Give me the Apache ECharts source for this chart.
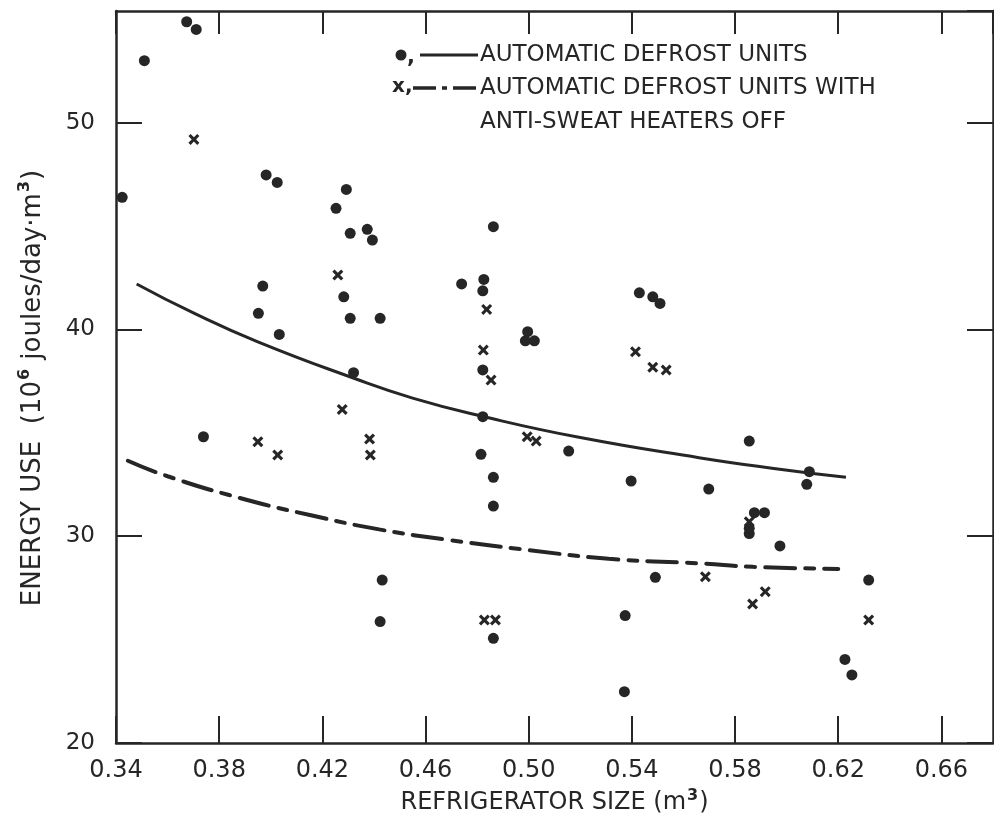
<!DOCTYPE html>
<html>
<head>
<meta charset="utf-8">
<script src="https://cdn.jsdelivr.net/npm/echarts@6/dist/echarts.min.js"></script>
<style>
  html, body { margin: 0; padding: 0; background: #fff; }
  #chart { width: 994px; height: 816px; }
</style>
</head>
<body>
<div id="chart"></div>
<script>
// automatic defrost units (dots)
var dotSize = [0.3424, 0.3510, 0.3674, 0.3711, 0.3739, 0.3952, 0.3969, 0.3982, 0.4025, 0.4033,
    0.4253, 0.4293, 0.4283, 0.4308, 0.4308, 0.4321, 0.4374, 0.4394, 0.4424, 0.4432,
    0.4424, 0.4740, 0.4826, 0.4822, 0.4822, 0.4822, 0.4815, 0.4863, 0.4863, 0.4863,
    0.4863, 0.4996, 0.4987, 0.5022, 0.5155, 0.5429, 0.5481, 0.5509, 0.5397, 0.5491,
    0.5374, 0.5371, 0.5698, 0.5855, 0.6088, 0.6078, 0.5875, 0.5914, 0.5855, 0.5855,
    0.5974, 0.6318, 0.6226, 0.6253];
var dotEnergy = [46.39, 53.00, 54.88, 54.51, 34.81, 40.78, 42.10, 47.47, 47.11, 39.76,
    45.86, 46.77, 41.58, 44.65, 40.54, 37.91, 44.84, 44.32, 40.54, 27.88,
    25.87, 42.20, 42.42, 41.87, 38.04, 35.78, 33.96, 44.97, 32.85, 31.46,
    25.06, 39.89, 39.45, 39.45, 34.12, 41.77, 41.58, 41.26, 32.67, 28.01,
    26.16, 22.48, 32.28, 34.60, 33.12, 32.51, 31.14, 31.14, 30.38, 30.13,
    29.53, 27.88, 24.04, 23.29];

// with anti-sweat heaters off (crosses)
var crossSize = [0.3702, 0.4260, 0.4277, 0.3950, 0.4027, 0.4383, 0.4386, 0.4837, 0.4824, 0.4854,
    0.4994, 0.5029, 0.4828, 0.4871, 0.5414, 0.5481, 0.5533, 0.5855, 0.5685, 0.5917,
    0.5868, 0.6318];
var crossEnergy = [49.19, 42.63, 36.13, 34.57, 33.93, 34.70, 33.93, 40.97, 39.00, 37.55,
    34.81, 34.60, 25.95, 25.95, 38.92, 38.17, 38.04, 30.70, 28.04, 27.32,
    26.72, 25.95];

// fitted curves
var fitSize = [0.348, 0.370, 0.395, 0.432, 0.455, 0.482, 0.520, 0.566, 0.595, 0.623];
var fitEnergy = [42.2, 40.8, 39.4, 37.65, 36.68, 35.8, 34.77, 33.8, 33.28, 32.85];
var fitOffSize = [0.3446, 0.360, 0.388, 0.416, 0.442, 0.469, 0.500, 0.531, 0.566, 0.587, 0.620];
var fitOffEnergy = [33.65, 32.9, 31.85, 31.0, 30.33, 29.82, 29.33, 28.91, 28.69, 28.52, 28.42];

var xTicks = { min: 0.34, max: 0.68, interval: 0.04 };
var yTicks = { min: 20, max: 55.4, interval: 10 };

function pairs(xs, ys) {
    return xs.map(function (x, i) { return [x, ys[i]]; });
}

var ink = '#262626';
var font = 'DejaVu Sans';
var crossPath = 'path://M2,0 L5,3 L8,0 L10,2 L7,5 L10,8 L8,10 L5,7 L2,10 L0,8 L3,5 L0,2 Z';
var supStyle = { color: ink, fill: ink, fontFamily: font, fontSize: 16, fontWeight: 'bold', lineHeight: 16, verticalAlign: 'top', padding: [0, 1, 0, 1] };

function xAxis(pos, labels) {
    return {
        type: 'value', position: pos,
        min: xTicks.min, max: xTicks.max, interval: xTicks.interval,
        axisLine: { show: true, onZero: false, lineStyle: { color: ink, width: 2.5 } },
        axisTick: { show: true, inside: true, length: pos === 'top' ? 23 : 27, lineStyle: { color: ink, width: 2 } },
        splitLine: { show: false },
        axisLabel: {
            show: labels, showMaxLabel: false, margin: 16,
            color: ink, fontFamily: font, fontSize: 24,
            formatter: function (v) { return v.toFixed(2); }
        }
    };
}

function yAxis(pos, labels) {
    return {
        type: 'value', position: pos,
        min: yTicks.min, max: yTicks.max, interval: yTicks.interval,
        axisLine: { show: true, onZero: false, lineStyle: { color: ink, width: 2.5 } },
        axisTick: { show: true, inside: true, length: 26, lineStyle: { color: ink, width: 2 } },
        splitLine: { show: false },
        axisLabel: {
            show: labels, showMaxLabel: false, margin: 21,
            color: ink, fontFamily: font, fontSize: 23
        }
    };
}

var chart = echarts.init(document.getElementById('chart'));

var xBottom = xAxis('bottom', true);
xBottom.name = 'REFRIGERATOR SIZE (m{sup|3})';
xBottom.nameLocation = 'middle';
xBottom.nameGap = 40;
xBottom.nameTextStyle = { color: ink, fontFamily: font, fontSize: 24, lineHeight: 30, rich: { sup: supStyle } };

var option = {
    backgroundColor: '#fff',
    animation: false,
    grid: { left: 116, right: 1, top: 11, bottom: 73, containLabel: false, outerBoundsMode: 'none' },
    xAxis: [xBottom, xAxis('top', false)],
    yAxis: [yAxis('left', true), yAxis('right', false)],
    graphic: [
        {
            type: 'text', x: 33, y: 388, rotation: Math.PI / 2,
            style: {
                text: 'ENERGY USE  (10{sup|6} joules/day·m{sup|3})',
                fill: ink, font: '26px ' + font, lineHeight: 32, align: 'center', verticalAlign: 'middle',
                rich: { sup: supStyle }
            }
        },
        // legend
        { type: 'circle', shape: { cx: 401, cy: 55, r: 5.5 }, style: { fill: ink } },
        { type: 'text', x: 407, y: 58, style: { text: ',', fill: ink, font: 'bold 21px ' + font, verticalAlign: 'middle' } },
        { type: 'line', shape: { x1: 420, y1: 55, x2: 478, y2: 55 }, style: { stroke: ink, lineWidth: 3 } },
        { type: 'text', x: 480, y: 55, style: { text: 'AUTOMATIC DEFROST UNITS', fill: ink, font: '23px ' + font, verticalAlign: 'middle' } },
        { type: 'text', x: 392, y: 87, style: { text: 'x,', fill: ink, font: 'bold 20px ' + font, verticalAlign: 'middle' } },
        { type: 'line', shape: { x1: 413, y1: 88, x2: 478, y2: 88 }, style: { stroke: ink, lineWidth: 3.5, lineDash: [23, 6, 5, 6] } },
        { type: 'text', x: 480, y: 88, style: { text: 'AUTOMATIC DEFROST UNITS WITH', fill: ink, font: '23px ' + font, verticalAlign: 'middle' } },
        { type: 'text', x: 480, y: 122, style: { text: 'ANTI-SWEAT HEATERS OFF', fill: ink, font: '23px ' + font, verticalAlign: 'middle' } }
    ],
    series: [
        {
            name: 'Automatic defrost units', type: 'line', smooth: true, showSymbol: false,
            data: pairs(fitSize, fitEnergy),
            lineStyle: { color: ink, width: 3 }, z: 2
        },
        {
            name: 'Anti-sweat heaters off', type: 'line', smooth: true, showSymbol: false,
            data: pairs(fitOffSize, fitOffEnergy),
            lineStyle: { color: ink, width: 4, type: [30, 10, 9, 10], cap: 'round' }, z: 2
        },
        {
            type: 'scatter', symbol: 'circle', symbolSize: 11,
            data: pairs(dotSize, dotEnergy),
            itemStyle: { color: ink, opacity: 1 }, z: 3
        },
        {
            type: 'scatter', symbol: crossPath, symbolSize: 11,
            data: pairs(crossSize, crossEnergy),
            itemStyle: { color: ink, opacity: 1 }, z: 3
        }
    ]
};
chart.setOption(option);
</script>
</body>
</html>
